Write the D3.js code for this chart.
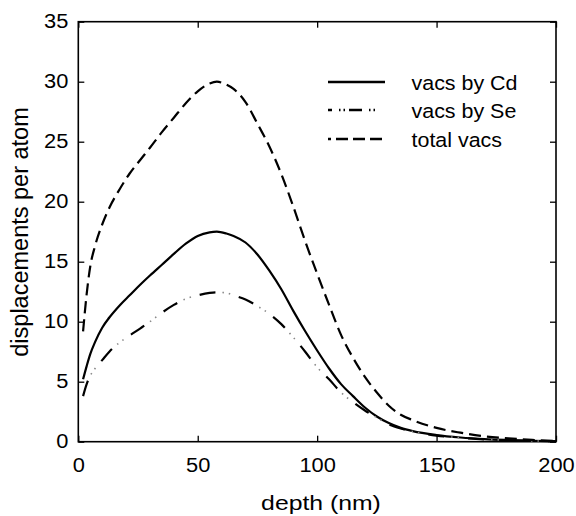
<!DOCTYPE html>
<html><head><meta charset="utf-8">
<script src="https://cdn.jsdelivr.net/npm/d3@7"></script>
<style>body{margin:0;background:#fff}svg{display:block}text{font-family:"Liberation Sans",Arial,sans-serif;fill:#000}</style>
</head><body><svg id="c" width="576" height="516"></svg>
<script>
const depth = [2,3.5,5,7,10,13,17.5,21.5,26,30,35,40,45,50,55,58,62,65,70,75,80,85,90,95,100,105,110,115,120,125,130,135,140,150,160,170,180,190,200];
const vacsCd = [5.2,6.3,7.3,8.3,9.5,10.35,11.4,12.2,13.1,13.85,14.75,15.65,16.5,17.15,17.45,17.5,17.35,17.15,16.6,15.6,14.25,12.7,10.9,9.2,7.6,6.1,4.8,3.8,2.85,2.1,1.55,1.15,0.88,0.55,0.35,0.22,0.14,0.08,0.04];
const vacsSe = [3.8,4.8,5.5,6.1,6.8,7.5,8.3,8.85,9.45,10.0,10.75,11.4,11.9,12.2,12.4,12.45,12.4,12.2,11.85,11.3,10.65,9.8,8.7,7.5,6.2,5.2,4.1,3.3,2.6,2.0,1.45,1.1,0.85,0.5,0.33,0.2,0.12,0.07,0.03];
const totalVacs = [9.2,12.3,14.6,16.3,18.1,19.5,21.1,22.35,23.5,24.5,25.8,27.0,28.2,29.2,29.85,30.0,29.75,29.4,28.3,26.5,24.6,22.3,19.6,16.7,14.0,11.4,8.9,7.0,5.4,4.1,3.0,2.25,1.8,1.15,0.75,0.45,0.28,0.15,0.07];
const xTicks = [0,50,100,150,200];
const yTicks = [0,5,10,15,20,25,30,35];
const legendLabels = ["vacs by Cd","vacs by Se","total vacs"];

const svg = d3.select("#c");
const L=78.3, R=556, T=21.7, B=441.7;
const x = d3.scaleLinear().domain([0,200]).range([L,R]);
const y = d3.scaleLinear().domain([0,35]).range([B,T]);
const FF = "Liberation Sans, Arial, sans-serif";

const tl=6;
const g = svg.append("g");
g.append("g").attr("transform",`translate(0,${B})`).call(d3.axisBottom(x).tickValues(xTicks).tickSizeInner(-tl).tickSizeOuter(0).tickPadding(16).tickFormat(d3.format("d")))
  .call(a=>{a.select(".domain").remove();a.selectAll("text").attr("font-size",19.5).style("font-family",FF).attr("transform","scale(1.12,1)");a.selectAll("line").attr("stroke-width",1.3);});
g.append("g").attr("transform",`translate(0,${T})`).call(d3.axisTop(x).tickValues(xTicks).tickSizeInner(-tl).tickSizeOuter(0).tickFormat(""))
  .call(a=>{a.select(".domain").remove();a.selectAll("line").attr("stroke-width",1.3);});
g.append("g").attr("transform",`translate(${L},0)`).call(d3.axisLeft(y).tickValues(yTicks).tickSizeInner(-tl).tickSizeOuter(0).tickFormat(d3.format("d")))
  .call(a=>{a.select(".domain").remove();a.selectAll("text").attr("font-size",19.5).style("font-family",FF).attr("x",0).attr("transform","translate(-10,0) scale(1.12,1)");a.selectAll("line").attr("stroke-width",1.3);});
g.append("g").attr("transform",`translate(${R},0)`).call(d3.axisRight(y).tickValues(yTicks).tickSizeInner(-tl).tickSizeOuter(0).tickFormat(""))
  .call(a=>{a.select(".domain").remove();a.selectAll("line").attr("stroke-width",1.3);});
svg.append("rect").attr("x",L).attr("y",T).attr("width",R-L).attr("height",B-T).attr("fill","none").attr("stroke","#000").attr("stroke-width",1.6);

const line = d3.line().x(d=>x(d[0])).y(d=>y(d[1])).curve(d3.curveMonotoneX);
const pts = arr => depth.map((d,i)=>[d,arr[i]]);

svg.append("path").attr("d",line(pts(vacsCd))).attr("fill","none").attr("stroke","#000").attr("stroke-width",2.2);
svg.append("path").attr("d",line(pts(vacsSe))).attr("fill","none").attr("stroke","#000").attr("stroke-width",2.2).attr("stroke-dasharray","16,24");
svg.append("path").attr("d",line(pts(vacsSe))).attr("fill","none").attr("stroke","#888").attr("stroke-width",1.6).attr("stroke-dasharray","0,23,1.5,5,1.5,9");
svg.append("path").attr("d",line(pts(totalVacs))).attr("fill","none").attr("stroke","#000").attr("stroke-width",2.2).attr("stroke-dasharray","12,6");

// legend
const lg = svg.append("g");
const ly=[82,110,139];
const lx0=328, lx1=385;
lg.append("line").attr("x1",lx0).attr("x2",lx1).attr("y1",ly[0]).attr("y2",ly[0]).attr("stroke","#000").attr("stroke-width",2.4);
lg.append("line").attr("x1",lx0).attr("x2",lx1).attr("y1",ly[1]).attr("y2",ly[1]).attr("stroke","#000").attr("stroke-width",2.4).attr("stroke-dasharray","4,7,1.5,3,1.5,4,13,7,1.5,3,1.5,10");
lg.append("line").attr("x1",lx0).attr("x2",lx1).attr("y1",ly[2]).attr("y2",ly[2]).attr("stroke","#000").attr("stroke-width",2.4).attr("stroke-dasharray","3,5,12,5,12,5,12");
legendLabels.forEach((t,i)=>lg.append("text").attr("transform",`translate(411.5,${ly[i]+7.5}) scale(1.1,1)`).attr("font-size",19.5).text(t));

svg.append("text").attr("transform",`translate(321,510) scale(1.18,1)`).attr("text-anchor","middle").attr("font-size",21).text("depth (nm)");
svg.append("text").attr("transform",`translate(27.5,232) rotate(-90)`).attr("text-anchor","middle").attr("font-size",23.5).text("displacements per atom");
</script></body></html>
